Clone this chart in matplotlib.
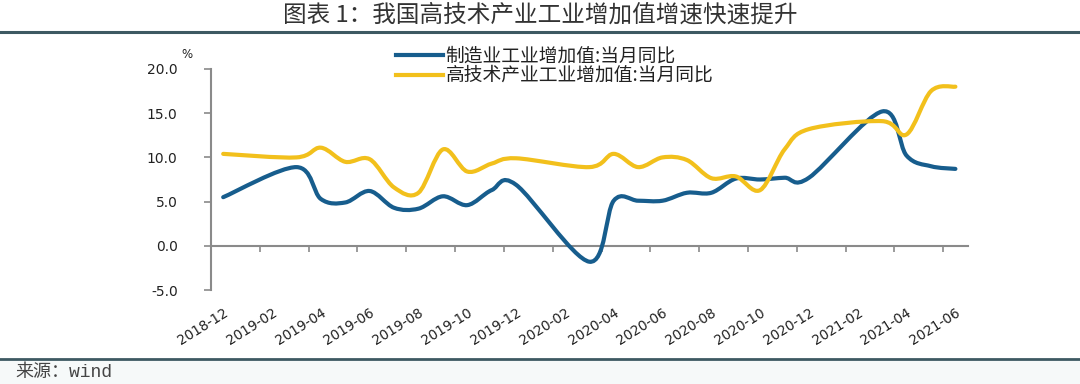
import numpy as np
import matplotlib
matplotlib.use("Agg")
import matplotlib.pyplot as plt
from matplotlib.path import Path
from matplotlib.patches import PathPatch, Rectangle
from matplotlib.lines import Line2D

plt.rcParams['font.family'] = ['Noto Sans CJK SC', 'DejaVu Sans']

nan = np.nan
months = ['2018-12', '2019-01', '2019-02', '2019-03', '2019-04', '2019-05', '2019-06',
          '2019-07', '2019-08', '2019-09', '2019-10', '2019-11', '2019-12', '2020-01',
          '2020-02', '2020-03', '2020-04', '2020-05', '2020-06', '2020-07', '2020-08',
          '2020-09', '2020-10', '2020-11', '2020-12', '2021-01', '2021-02', '2021-03',
          '2021-04', '2021-05', '2021-06']
manufacturing = [5.5, nan, nan, 8.9, 5.3, 4.9, 6.2, 4.3, 4.2, 5.6, 4.6, 6.3, 6.9, nan, nan,
                 -1.8, 5.1, 5.1, 5.1, 6.0, 6.0, 7.6, 7.5, 7.7, 7.7, nan, nan, 15.2, 10.2, 9.0, 8.7]
hightech = [10.4, nan, nan, 10.0, 11.1, 9.5, 9.8, 6.6, 6.0, 10.9, 8.4, 9.3, 9.9, nan, nan,
            8.9, 10.4, 8.9, 10.0, 9.7, 7.65, 7.85, 6.3, 10.9, 13.2, nan, nan, 14.1, 12.6, 17.5, 18.0]
series_names = ['制造业工业增加值:当月同比', '高技术产业工业增加值:当月同比']
series_colors = ['#175d8d', '#f2c01c']
x_tick_labels = months[::2]
y_ticks = [-5, 0, 5, 10, 15, 20]
y_tick_labels = ['-5.0', '0.0', '5.0', '10.0', '15.0', '20.0']
title = '图表 1：我国高技术产业工业增加值增速快速提升'
source = '来源：wind'


def smooth_path(xs, ys):
    pts = np.array([(xv, yv) for xv, yv in zip(xs, ys) if not np.isnan(yv)], dtype=float)
    verts = [pts[0]]
    codes = [Path.MOVETO]
    n = len(pts)
    for i in range(n - 1):
        p0 = pts[i - 1] if i > 0 else pts[i]
        p1 = pts[i]
        p2 = pts[i + 1]
        p3 = pts[i + 2] if i + 2 < n else pts[i + 1]
        c1 = p1 + (p2 - p0) / 6.0
        c2 = p2 - (p3 - p1) / 6.0
        verts += [c1, c2, p2]
        codes += [Path.CURVE4] * 3
    return Path(verts, codes)


W, H = 1080, 384
fig = plt.figure(figsize=(W / 100, H / 100), dpi=100)
fig.patch.set_facecolor('white')

# footer tint
fig.add_artist(Rectangle((0, 0), 1, 1 - 359 / H, transform=fig.transFigure,
                         facecolor='#f6f9f9', edgecolor='none', zorder=0))

ax = fig.add_axes([211 / W, 1 - 290 / H, (967.6 - 211) / W, (290 - 69) / H])
ax.set_facecolor('none')

x = np.arange(len(months))
for vals, color, z in [(manufacturing, series_colors[0], 3), (hightech, series_colors[1], 4)]:
    patch = PathPatch(smooth_path(x, vals), facecolor='none', edgecolor=color, lw=3.0,
                      capstyle='round', joinstyle='round', zorder=z)
    ax.add_patch(patch)

ax.set_xlim(-0.5, len(months) - 0.5)
ax.set_ylim(-5, 20)

grey = '#8a8a8a'
for s in ['top', 'right']:
    ax.spines[s].set_visible(False)
ax.spines['left'].set_color(grey)
ax.spines['left'].set_linewidth(1.5)
ax.spines['bottom'].set_position(('data', 0))
ax.spines['bottom'].set_color(grey)
ax.spines['bottom'].set_linewidth(1.5)

ax.set_yticks(y_ticks, labels=y_tick_labels)
ax.tick_params(axis='y', direction='out', length=5, width=1.2, color=grey,
               pad=19, labelsize=10, labelcolor='#222222')
for lab in ax.get_yticklabels():
    lab.set_family('DejaVu Sans')

ax.set_xticks(np.arange(0, len(months), 2))
ax.set_xticks(np.arange(-0.5, len(months) - 1, 2), minor=True)
ax.tick_params(axis='x', which='major', length=0, labelbottom=False)
ax.tick_params(axis='x', which='minor', direction='out', length=4, width=1.2, color=grey)

sec = ax.secondary_xaxis('bottom')
sec.set_xticks(np.arange(0, len(months), 2), labels=x_tick_labels)
sec.spines['bottom'].set_visible(False)
sec.tick_params(axis='x', length=0, pad=11, labelsize=9.8, labelcolor='#222222')
for lab in sec.get_xticklabels():
    lab.set_rotation(32)
    lab.set_ha('right')
    lab.set_va('top')
    lab.set_rotation_mode('anchor')
    lab.set_family('DejaVu Sans')

# legend
handles = [Line2D([], [], color=c, lw=3.0) for c in series_colors]
leg = ax.legend(handles, series_names, loc='upper left',
                bbox_to_anchor=(396 / W, 1 - 46 / H), bbox_transform=fig.transFigure,
                frameon=False, fontsize=13.5, handlelength=2.5, handletextpad=0.15,
                labelspacing=-0.1, borderpad=0, borderaxespad=0)
for t in leg.get_texts():
    t.set_color('#222222')

fig.text(187 / W, 1 - 55 / H, '%', ha='center', va='center', fontsize=8.5, color='#222222',
         family='DejaVu Sans')

# title and rules
fig.text(0.5, 1 - 15 / H, title, ha='center', va='center', fontsize=17, color='#333333')
fig.add_artist(Line2D([0, 1], [1 - 32 / H] * 2, transform=fig.transFigure,
                      color='#3d5962', lw=2.2))
fig.add_artist(Line2D([0, 1], [1 - 359 / H] * 2, transform=fig.transFigure,
                      color='#3d5962', lw=2.0))
fig.text(15 / W, 1 - 372 / H, source, ha='left', va='center', fontsize=13, color='#444444',
         family=['Liberation Mono', 'Noto Sans CJK SC'])

fig.savefig('out.png', dpi=100)
